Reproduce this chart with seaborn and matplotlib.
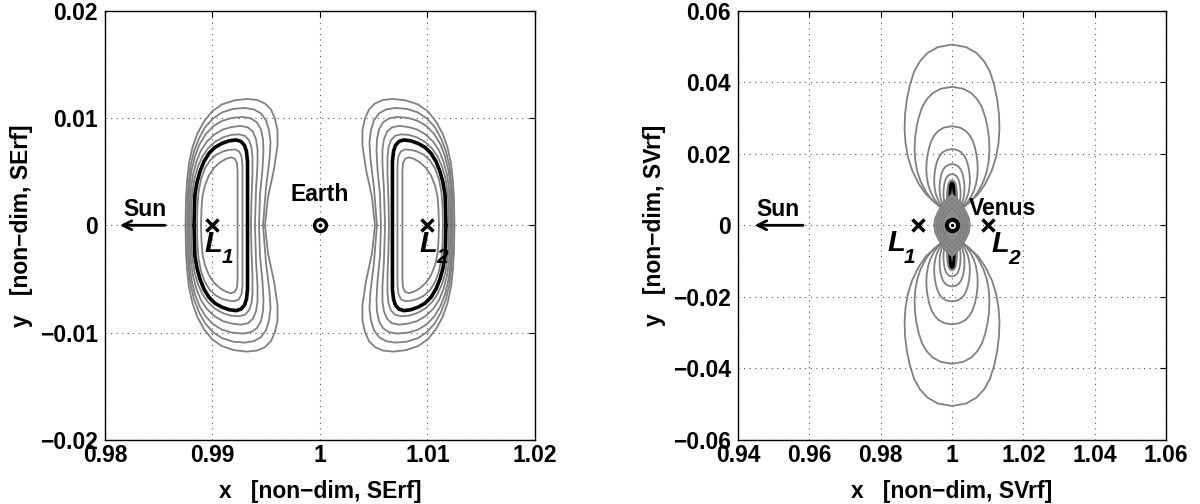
import numpy as np
import pandas as pd
import matplotlib
matplotlib.use("Agg")
import matplotlib.pyplot as plt
import seaborn as sns

# ---------------- data ----------------
# Sun-Earth L1 orbit family, upper halves (left y=0 -> over top -> right y=0);
# lower halves are mirror images in y, L2 family is the mirror image about x = 1.
L1_I2_X = [0.98893, 0.98898, 0.98907, 0.98930, 0.98967, 0.99014, 0.99070, 0.99126, 0.99172, 0.99209, 0.99228, 0.99233, 0.99233, 0.99233]
L1_I2_Y = [0, 0.00158, 0.00270, 0.00372, 0.00465, 0.00535, 0.00586, 0.00619, 0.00633, 0.00619, 0.00577, 0.00502, 0.00335, 0]
L1_I1_X = [0.98856, 0.98860, 0.98870, 0.98893, 0.98930, 0.98977, 0.99033, 0.99098, 0.99153, 0.99209, 0.99247, 0.99270, 0.99279, 0.99279, 0.99279]
L1_I1_Y = [0, 0.00177, 0.00307, 0.00428, 0.00530, 0.00605, 0.00656, 0.00688, 0.00702, 0.00707, 0.00688, 0.00642, 0.00558, 0.00381, 0]
L1_B_X = [0.98828, 0.98833, 0.98837, 0.98856, 0.98884, 0.98921, 0.98967, 0.99023, 0.99088, 0.99153, 0.99219, 0.99265, 0.99298, 0.99316, 0.99326, 0.99326, 0.99326, 0.99326]
L1_B_Y = [0, 0.00195, 0.00288, 0.00400, 0.00502, 0.00595, 0.00670, 0.00726, 0.00763, 0.00786, 0.00795, 0.00781, 0.00744, 0.00688, 0.00595, 0.00428, 0.00195, 0]
L1_O1_X = [0.98800, 0.98805, 0.98814, 0.98833, 0.98865, 0.98907, 0.98958, 0.99023, 0.99098, 0.99172, 0.99247, 0.99302, 0.99340, 0.99363, 0.99372, 0.99372, 0.99363, 0.99358]
L1_O1_Y = [0, 0.00195, 0.00316, 0.00437, 0.00549, 0.00642, 0.00716, 0.00777, 0.00819, 0.00842, 0.00847, 0.00833, 0.00791, 0.00726, 0.00633, 0.00474, 0.00242, 0]
L1_O2_X = [0.98786, 0.98791, 0.98800, 0.98819, 0.98851, 0.98893, 0.98949, 0.99019, 0.99098, 0.99181, 0.99265, 0.99330, 0.99377, 0.99405, 0.99419, 0.99419, 0.99405, 0.99395]
L1_O2_Y = [0, 0.00205, 0.00344, 0.00474, 0.00595, 0.00698, 0.00781, 0.00847, 0.00893, 0.00916, 0.00926, 0.00912, 0.00870, 0.00800, 0.00707, 0.00567, 0.00335, 0]
L1_O3_X = [0.98772, 0.98777, 0.98786, 0.98805, 0.98837, 0.98879, 0.98935, 0.99005, 0.99088, 0.99181, 0.99284, 0.99358, 0.99414, 0.99451, 0.99470, 0.99474, 0.99465, 0.99442, 0.99433]
L1_O3_Y = [0, 0.00214, 0.00372, 0.00512, 0.00642, 0.00753, 0.00847, 0.00921, 0.00972, 0.01000, 0.01009, 0.00995, 0.00958, 0.00893, 0.00800, 0.00688, 0.00521, 0.00288, 0]
L1_O4_X = [0.98763, 0.98767, 0.98777, 0.98795, 0.98828, 0.98874, 0.98930, 0.99005, 0.99088, 0.99191, 0.99302, 0.99386, 0.99451, 0.99498, 0.99526, 0.99540, 0.99530, 0.99498, 0.99470]
L1_O4_Y = [0, 0.00223, 0.00391, 0.00549, 0.00688, 0.00809, 0.00912, 0.00995, 0.01051, 0.01084, 0.01093, 0.01079, 0.01042, 0.00977, 0.00884, 0.00772, 0.00614, 0.00353, 0]
L1_O5_X = [0.98749, 0.98753, 0.98763, 0.98781, 0.98814, 0.98860, 0.98921, 0.98995, 0.99088, 0.99200, 0.99321, 0.99414, 0.99488, 0.99544, 0.99581, 0.99605, 0.99605, 0.99572, 0.99516, 0.99488]
L1_O5_Y = [0, 0.00233, 0.00409, 0.00577, 0.00726, 0.00856, 0.00967, 0.01060, 0.01126, 0.01163, 0.01177, 0.01167, 0.01135, 0.01079, 0.00995, 0.00884, 0.00744, 0.00521, 0.00260, 0]

SE_L1, SE_L2, EARTH_X = 0.99, 1.01, 1.0

# Sun-Venus panel: loop outline template (right half, bottom -> top), normalised
LOOP_U = [0, 0.16, 0.36, 0.55, 0.70, 0.84, 0.93, 0.98, 1.0, 0.99, 0.95, 0.89, 0.80, 0.68, 0.52, 0.30, 0]
LOOP_V = [0, 0.03, 0.07, 0.12, 0.18, 0.26, 0.34, 0.42, 0.50, 0.59, 0.68, 0.76, 0.84, 0.90, 0.95, 0.985, 1.0]
LOOP_TOP = [0.0505, 0.0387, 0.0277, 0.0213, 0.0171, 0.0143, 0.0126]
LOOP_HW = [0.0133, 0.0105, 0.0072, 0.0050, 0.0035, 0.0024, 0.0014]
LOOP_BASE = 0.003
SPIKE_TOP, SPIKE_HW = 0.0118, 0.0006
# lens-shaped dense family around Venus (upper-right quadrant)
LENS_U = [1, 0.94, 0.76, 0.53, 0.24, 0]
LENS_V = [0, 0.23, 0.45, 0.68, 0.87, 1]
LENS_A, LENS_B = 0.0051, 0.0089
SV_L1, SV_L2, VENUS_X = 0.9905, 1.0100, 1.0

# ---------------- style ----------------
sns.set_theme(style="white")
plt.rcParams["font.family"] = ["Liberation Sans", "DejaVu Sans"]
plt.rcParams["font.weight"] = "bold"
plt.rcParams["axes.labelweight"] = "bold"
plt.rcParams["text.color"] = "black"
plt.rcParams["axes.labelcolor"] = "black"
plt.rcParams["xtick.color"] = "black"
plt.rcParams["ytick.color"] = "black"
GRAY = "#808080"
FS = 16.5


def closed_half(xs, ys):
    xs = np.asarray(xs, float); ys = np.asarray(ys, float)
    X = np.concatenate([xs, xs[::-1][1:]])
    Y = np.concatenate([ys, -ys[::-1][1:]])
    return X, Y


def frame(parts):
    out = []
    for i, (X, Y) in enumerate(parts):
        out.append(pd.DataFrame({"x": X, "y": Y, "curve": i}))
    return pd.concat(out, ignore_index=True)


fig = plt.figure(figsize=(12, 5.04), dpi=100)
ax1 = fig.add_axes([0.0875, 0.127, 0.3583, 0.852])
ax2 = fig.add_axes([0.615, 0.127, 0.3567, 0.852])

# ---------------- left: Sun-Earth ----------------
gray_l1 = [(L1_I2_X, L1_I2_Y), (L1_I1_X, L1_I1_Y), (L1_O1_X, L1_O1_Y), (L1_O2_X, L1_O2_Y),
           (L1_O3_X, L1_O3_Y), (L1_O4_X, L1_O4_Y), (L1_O5_X, L1_O5_Y)]
parts_gray, parts_black = [], []
for xs, ys in gray_l1:
    X, Y = closed_half(xs, ys)
    parts_gray.append((X, Y))
    parts_gray.append((2 * EARTH_X - X, Y))
X, Y = closed_half(L1_B_X, L1_B_Y)
parts_black.append((X, Y))
parts_black.append((2 * EARTH_X - X, Y))

sns.lineplot(data=frame(parts_gray), x="x", y="y", units="curve", estimator=None, sort=False,
             color=GRAY, lw=1.3, ax=ax1, legend=False)
sns.lineplot(data=frame(parts_black), x="x", y="y", units="curve", estimator=None, sort=False,
             color="black", lw=2.6, ax=ax1, legend=False)
for ln in ax1.lines:
    ln.set_solid_joinstyle("round")

ax1.plot([SE_L1, SE_L2], [0, 0], ls="none", marker="x", ms=9, mew=2.5, color="black")
ax1.plot(EARTH_X, 0, "o", ms=10, color="black")
ax1.plot(EARTH_X, 0, "o", ms=5, color="white")
ax1.plot(EARTH_X, 0, "o", ms=1.8, color="black")
ax1.text(1.0, 0.0029, "Earth", ha="center", va="center", fontsize=FS, fontweight="bold")
ax1.text(0.98372, 0.0015, "Sun", ha="center", va="center", fontsize=FS, fontweight="bold")
ax1.annotate("", xy=(0.98112, 0), xytext=(0.98586, 0),
             arrowprops=dict(arrowstyle="->", lw=2, color="black", mutation_scale=16))
for lx, sub in [(SE_L1, "1"), (SE_L2, "2")]:
    ax1.text(lx + 0.00005, -0.0017, "L", ha="center", va="center", fontsize=21,
             fontweight="bold", style="italic")
    ax1.text(lx + 0.00140, -0.0030, sub, ha="center", va="center", fontsize=15,
             fontweight="bold", style="italic")

ax1.set_xlim(0.98, 1.02)
ax1.set_ylim(-0.02, 0.02)
ax1.set_xticks([0.98, 0.99, 1.0, 1.01, 1.02])
ax1.set_xticklabels(["0.98", "0.99", "1", "1.01", "1.02"])
ax1.set_yticks([-0.02, -0.01, 0, 0.01, 0.02])
ax1.set_yticklabels(["\u22120.02", "\u22120.01", "0", "0.01", "0.02"])
ax1.set_xlabel("x   [non\u2212dim, SErf]", fontsize=FS, fontweight="bold")
ax1.set_ylabel("y   [non\u2212dim, SErf]", fontsize=FS, fontweight="bold")

# ---------------- right: Sun-Venus ----------------
u = np.asarray(LOOP_U); v = np.asarray(LOOP_V)
loops = []
for top, hw in zip(LOOP_TOP, LOOP_HW):
    yv = LOOP_BASE + v * (top - LOOP_BASE)
    X = np.concatenate([VENUS_X + u * hw, (VENUS_X - u * hw)[::-1]])
    Y = np.concatenate([yv, yv[::-1]])
    loops.append((X, Y))
    loops.append((X, -Y))
sns.lineplot(data=frame(loops), x="x", y="y", units="curve", estimator=None, sort=False,
             color=GRAY, lw=1.3, ax=ax2, legend=False)

spikes = []
yv = LOOP_BASE + v * (SPIKE_TOP - LOOP_BASE)
SX = np.concatenate([VENUS_X + u * SPIKE_HW, (VENUS_X - u * SPIKE_HW)[::-1]])
SY = np.concatenate([yv, yv[::-1]])
spikes.append((SX, SY)); spikes.append((SX, -SY))
sns.lineplot(data=frame(spikes), x="x", y="y", units="curve", estimator=None, sort=False,
             color="black", lw=2.4, ax=ax2, legend=False)
for ln in ax2.lines:
    ln.set_solid_joinstyle("round")

lu = np.asarray(LENS_U); lv = np.asarray(LENS_V)
LX = np.concatenate([VENUS_X + lu * LENS_A, VENUS_X - lu[::-1] * LENS_A,
                     VENUS_X - lu * LENS_A, VENUS_X + lu[::-1] * LENS_A])
LY = np.concatenate([lv * LENS_B, lv[::-1] * LENS_B, -lv * LENS_B, -lv[::-1] * LENS_B])
ax2.fill(LX, LY, color="#8c8c8c", lw=0, zorder=3)
for s in [1.0, 0.85, 0.7, 0.55]:
    ax2.plot(VENUS_X + (LX - VENUS_X) * s, LY * s, color="#777777", lw=0.7, zorder=3)

ax2.plot([SV_L1, SV_L2], [0, 0], ls="none", marker="x", ms=9, mew=2.5, color="black", zorder=5)
ax2.plot(VENUS_X, 0, "o", ms=10, color="black", zorder=5)
ax2.plot(VENUS_X, 0, "o", ms=4, color="white", zorder=5)
ax2.plot(VENUS_X, 0, "o", ms=1.5, color="black", zorder=5)
ax2.text(1.0143, 0.0048, "Venus", ha="center", va="center", fontsize=FS, fontweight="bold")
ax2.text(0.9512, 0.0045, "Sun", ha="center", va="center", fontsize=FS, fontweight="bold")
ax2.annotate("", xy=(0.9439, 0), xytext=(0.9590, 0),
             arrowprops=dict(arrowstyle="->", lw=2, color="black", mutation_scale=16))
ax2.text(0.9843, -0.0050, "L", ha="center", va="center", fontsize=21, fontweight="bold", style="italic")
ax2.text(0.9881, -0.0090, "1", ha="center", va="center", fontsize=15, fontweight="bold", style="italic")
ax2.text(1.0135, -0.0052, "L", ha="center", va="center", fontsize=21, fontweight="bold", style="italic")
ax2.text(1.0173, -0.0092, "2", ha="center", va="center", fontsize=15, fontweight="bold", style="italic")

ax2.set_xlim(0.94, 1.06)
ax2.set_ylim(-0.06, 0.06)
ax2.set_xticks([0.94, 0.96, 0.98, 1.0, 1.02, 1.04, 1.06])
ax2.set_xticklabels(["0.94", "0.96", "0.98", "1", "1.02", "1.04", "1.06"])
ax2.set_yticks([-0.06, -0.04, -0.02, 0, 0.02, 0.04, 0.06])
ax2.set_yticklabels(["\u22120.06", "\u22120.04", "\u22120.02", "0", "0.02", "0.04", "0.06"])
ax2.set_xlabel("x   [non\u2212dim, SVrf]", fontsize=FS, fontweight="bold")
ax2.set_ylabel("y   [non\u2212dim, SVrf]", fontsize=FS, fontweight="bold")

for ax in (ax1, ax2):
    ax.grid(True, ls=(0, (1, 4)), color="#555555", lw=0.8)
    ax.set_axisbelow(True)
    ax.tick_params(direction="in", length=4, width=0.8, top=True, right=True,
                   labelsize=FS, pad=5, colors="black")
    ax.tick_params(axis="x", pad=3)
    for sp in ax.spines.values():
        sp.set_color("black"); sp.set_linewidth(1.0); sp.set_visible(True)
    for t in ax.get_xticklabels() + ax.get_yticklabels():
        t.set_fontweight("bold")
    ax.yaxis.set_label_coords(-0.168, 0.5)
    ax.xaxis.set_label_coords(0.5, -0.094)

fig.savefig("out.png", dpi=100, facecolor="white")
